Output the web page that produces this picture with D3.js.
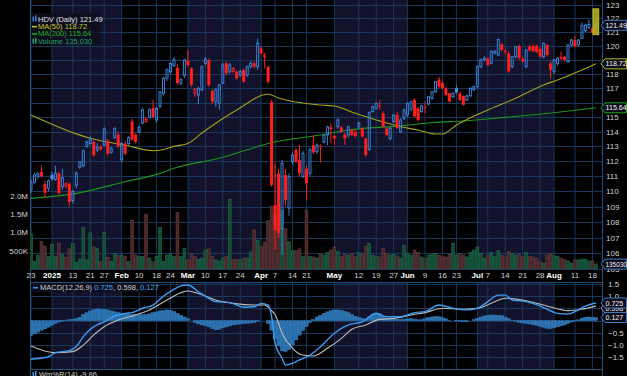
<!DOCTYPE html>
<html>
<head>
<meta charset="utf-8">
<script src="https://cdn.jsdelivr.net/npm/d3@7"></script>
<style>
  body { margin: 0; background: #000; }
  svg { display: block; }
  text { font-family: "Liberation Sans", Arial, sans-serif; }
</style>
</head>
<body>
<div id="wrapper"></div>
<script>

// ---- data ----

const firstDay = "2024-12-23"
const endDay = "2025-08-20"
const holidays = ["2024-12-25", "2025-01-01", "2025-01-09", "2025-01-20", "2025-02-17",
  "2025-04-18", "2025-05-26", "2025-06-19", "2025-07-04"]

const opens = [
  110.1,110.6,111.0,111.3,110.5,110.2,111.1,110.8,111.2,110.3,
  110.35,110.5,109.4,110.4,111.6,111.7,113.0,113.2,113.3,112.75,
  112.95,113.1,113.4,112.6,113.6,113.8,112.1,113.2,113.2,114.7,
  113.8,114.0,114.6,114.7,115.0,115.65,114.8,115.75,116.65,117.7,
  118.15,118.6,118.45,117.35,117.9,118.95,118.4,116.65,116.53,116.88,
  118.76,119.0,116.83,116.07,115.95,117.35,118.76,118.17,118.17,118.17,
  117.93,118.29,117.93,118.52,118.76,118.52,119.83,119.23,118.52,116.07,
  109.1,111.19,107.6,111.08,108.9,111.97,112.76,112.08,110.97,111.52,
  111.19,113.09,112.64,113.05,113.3,113.77,114.3,113.7,114.34,114.3,
  113.81,113.77,114.11,114.0,114.34,114.23,113.54,112.8,115.38,115.61,
  115.8,115.26,114.23,113.54,114.68,115.15,113.99,114.92,115.15,115.54,
  116.18,115.61,115.38,115.72,115.91,116.3,116.76,117.63,117.39,117.0,
  116.65,116.41,117.0,116.65,116.46,116.18,116.47,116.9,117.11,118.52,
  119.0,119.1,118.76,119.47,119.35,120.12,119.65,119.47,118.52,119.23,
  120.0,119.1,118.52,119.95,120.0,120.0,119.8,119.23,120.07,118.76,
  118.17,118.76,119.2,119.23,118.88,120.07,120.42,120.07,120.55,121.1,
  121.35,121.3,121.0
]
const highs = [
  110.8,111.2,111.3,111.7,110.7,110.8,111.3,111.7,111.3,111.5,
  110.6,110.6,110.1,111.3,112.0,112.8,113.4,113.7,113.4,113.2,
  113.1,114.3,113.5,113.0,114.3,114.0,113.3,113.4,113.7,114.9,
  113.9,114.4,115.6,115.0,115.6,116.2,115.7,116.8,117.8,118.4,
  118.8,119.2,118.7,117.7,119.1,119.7,118.5,117.0,117.1,118.6,
  119.2,119.1,116.9,117.0,117.3,118.8,118.9,118.8,118.5,118.3,
  118.3,118.4,118.6,118.9,118.9,120.5,120.0,119.5,118.6,116.2,
  111.86,111.5,112.1,111.5,111.2,112.6,112.9,113.1,112.7,111.7,
  112.9,113.77,113.2,113.15,113.85,114.4,114.57,113.8,114.92,114.4,
  113.9,114.4,114.2,114.1,114.7,114.3,113.6,115.4,115.8,116.0,
  116.18,115.4,114.3,114.3,115.2,115.38,114.9,115.6,116.0,116.1,
  116.3,115.7,115.85,116.07,116.45,116.8,117.5,117.81,117.5,117.1,
  116.7,116.7,117.23,116.75,116.5,116.55,117.05,117.2,118.6,119.1,
  119.25,119.2,119.7,119.7,120.5,120.2,119.8,119.6,119.3,120.0,
  120.1,119.2,119.8,120.1,120.1,120.1,119.9,120.25,120.15,118.9,
  119.05,119.2,119.59,119.3,120.1,120.5,120.7,120.5,121.7,121.6,
  121.9,121.35,121.7
]
const lows = [
  109.9,110.5,110.8,110.9,109.6,110.0,110.7,110.7,109.8,110.1,
  110.2,109.0,109.2,110.2,111.5,111.6,112.9,113.1,112.3,112.6,
  112.7,113.0,112.4,112.5,113.5,112.9,111.9,112.4,113.1,113.4,
  113.2,113.9,114.5,114.6,114.9,114.9,114.6,115.6,116.5,117.5,
  118.0,118.5,117.2,117.2,117.7,118.5,117.1,116.4,115.9,116.8,
  118.6,117.1,115.9,115.7,115.5,117.3,117.9,118.0,118.1,117.6,
  117.8,117.4,117.8,118.4,118.4,118.3,119.4,118.4,117.3,110.3,
  106.2,107.0,105.9,109.0,108.4,111.8,111.9,110.97,110.9,109.44,
  111.0,112.5,112.5,111.9,113.2,113.09,113.2,113.1,114.2,113.9,
  113.09,113.6,113.7,113.6,114.2,113.6,112.3,112.7,115.3,115.5,
  115.49,114.3,113.7,113.4,114.6,114.2,113.9,114.8,115.0,115.4,
  115.0,114.7,115.3,115.26,115.8,116.2,116.7,117.0,116.9,116.45,
  116.0,116.3,116.6,116.1,115.8,116.1,116.4,116.8,117.0,118.4,
  118.9,118.55,118.7,119.4,119.3,119.6,119.4,118.1,118.4,119.1,
  119.0,118.8,118.4,119.6,119.55,119.5,119.15,119.1,119.25,117.7,
  118.0,118.6,119.0,118.9,118.8,120.0,119.9,120.0,120.5,121.0,
  121.2,120.85,120.9
]
const closes = [
  110.6,111.1,111.15,111.0,109.9,110.7,110.8,111.2,109.9,110.9,
  110.5,109.3,110.0,111.2,111.95,112.7,113.3,113.5,112.4,112.95,
  112.8,114.2,112.5,112.85,114.2,113.0,113.2,112.5,113.6,113.45,
  113.3,114.3,115.5,114.85,115.5,115.0,115.6,116.75,117.7,118.3,
  118.75,119.0,117.35,117.6,119.0,118.64,117.23,116.93,116.99,118.52,
  119.05,117.23,116.07,116.88,117.23,118.64,118.05,118.64,118.4,117.7,
  118.17,117.46,118.52,118.76,118.52,120.19,119.47,119.35,117.46,110.42,
  107.48,107.3,111.86,109.44,110.97,112.42,111.97,111.19,112.53,110.53,
  112.76,112.58,113.09,112.98,113.77,114.34,114.16,113.55,114.8,114.0,
  113.54,114.34,113.77,113.7,114.57,113.66,112.42,115.3,115.72,115.95,
  115.75,114.34,113.77,114.23,115.15,114.23,114.8,115.49,115.95,116.07,
  115.03,114.8,115.77,115.65,116.41,116.76,117.46,117.11,117.0,116.53,
  116.07,116.65,116.69,116.18,115.84,116.47,117.0,117.1,118.52,119.0,
  119.12,118.64,119.59,119.62,120.47,119.71,119.55,118.17,119.23,119.95,
  119.12,118.88,119.71,119.68,119.62,119.58,119.23,120.19,119.35,118.29,
  119.0,119.12,119.08,119.0,120.07,120.42,119.95,120.42,121.45,121.5,
  121.55,120.95,121.49
]
// volume in thousands of shares
const volumes = [
  960,200,380,750,630,340,680,340,700,400,
  320,550,700,180,270,1140,250,990,600,570,
  200,1000,320,200,420,380,380,340,200,1340,
  380,340,340,1500,300,200,340,1140,200,380,
  400,340,1540,340,570,250,400,340,270,300,
  520,550,340,250,220,300,350,1900,250,260,
  250,300,300,470,1070,790,620,740,1320,1720,
  1500,1750,1600,1100,740,500,500,550,350,1610,
  350,330,300,420,380,450,520,600,480,350,
  400,380,420,350,450,400,620,700,380,350,
  330,560,420,380,400,360,300,650,420,380,
  520,450,330,300,380,400,420,380,350,330,
  400,700,380,420,380,330,450,520,600,420,
  300,380,450,350,500,380,330,480,420,380,
  400,330,450,350,330,300,200,150,380,420,
  360,350,300,260,220,160,250,250,270,270,
  220,220,135.03
]

// moving averages, read at [trading-day index, value]
const ma50Points = [
  [0,115.14],[13,113.85],[17,113.55],[27,113.09],[35,112.71],[38,112.79],[41,113.0],
  [45,113.2],[49,113.91],[59,115.49],[68,116.58],[71,116.32],[83,115.83],[87,115.76],
  [93,115.26],[99,114.80],[106,114.34],[111,114.11],[116,113.84],[118,113.84],
  [122,114.45],[125,114.84],[127,115.07],[131,115.49],[139,116.30],[147,117.23],
  [151,117.58],[158,118.28],[162,118.72]
]
const ma200Points = [
  [0,109.54],[13,109.87],[27,110.64],[37,111.19],[41,111.53],[54,112.20],[69,113.25],
  [83,113.77],[91,114.11],[105,114.38],[115,114.61],[125,114.75],[136,114.98],
  [150,115.30],[162,115.64]
]

// MACD(12,26,9)
const macdPoints = [
  [0,-1.59],[5,-1.49],[7,-1.32],[11,-1.24],[13,-1.07],[15,-0.66],[18,-0.25],[21,-0.05],
  [24,0.19],[27,0.30],[29,0.33],[32,0.51],[35,0.64],[38,1.01],[41,1.29],[43,1.43],
  [45,1.47],[48,1.19],[50,1.01],[53,0.78],[57,0.74],[61,0.55],[64,0.57],[66,0.71],
  [68,0.64],[69,0.16],[70,-0.94],[72,-1.55],[73,-1.83],[75,-1.76],[77,-1.62],[80,-1.42],
  [83,-1.08],[87,-0.52],[91,-0.18],[95,-0.05],[99,0.30],[102,0.16],[106,0.16],[110,0.33],
  [113,0.37],[117,0.64],[121,0.51],[125,0.44],[128,0.51],[131,0.78],[134,1.05],[136,1.05],
  [138,0.85],[142,0.78],[146,0.60],[151,0.30],[154,0.27],[156,0.37],[159,0.60],[162,0.725]
]
const signalPoints = [
  [0,-1.05],[3,-1.21],[7,-1.32],[12,-1.28],[15,-1.01],[18,-0.59],[21,-0.25],[25,0.02],
  [29,0.19],[34,0.44],[39,0.85],[43,1.15],[45,1.22],[48,1.12],[53,0.85],[58,0.71],
  [64,0.64],[67,0.64],[69,0.40],[70,0.25],[72,-0.52],[75,-1.14],[78,-1.42],[81,-1.46],
  [85,-1.14],[89,-0.73],[92,-0.36],[96,-0.18],[100,0.05],[104,0.09],[109,0.23],[113,0.33],
  [118,0.51],[123,0.47],[128,0.51],[133,0.78],[136,0.92],[142,0.82],[148,0.60],
  [154,0.41],[158,0.47],[162,0.598]
]
const histogram = [
  -0.62,-0.55,-0.48,-0.40,-0.34,-0.27,-0.20,-0.12,-0.06,-0.02,
  0.02,0.04,0.05,0.08,0.14,0.25,0.33,0.40,0.45,0.48,
  0.47,0.46,0.44,0.40,0.36,0.33,0.30,0.30,0.28,0.26,
  0.25,0.26,0.25,0.24,0.28,0.33,0.36,0.40,0.42,0.44,
  0.42,0.38,0.30,0.22,0.15,0.08,0.00,-0.08,-0.14,-0.18,
  -0.20,-0.26,-0.33,-0.38,-0.36,-0.30,-0.26,-0.22,-0.18,-0.16,
  -0.14,-0.12,-0.11,-0.10,-0.08,-0.02,0.00,0.00,-0.12,-0.40,
  -0.75,-1.05,-1.25,-1.28,-1.20,-1.00,-0.80,-0.60,-0.42,-0.25,
  -0.08,0.05,0.15,0.22,0.30,0.36,0.41,0.44,0.44,0.42,
  0.38,0.33,0.26,0.18,0.14,0.10,0.06,0.15,0.25,0.30,
  0.28,0.18,0.10,0.05,0.06,0.05,0.04,0.05,0.07,0.08,
  0.06,0.03,0.04,0.08,0.12,0.15,0.17,0.16,0.12,0.07,
  0.02,0.00,-0.01,-0.03,-0.04,-0.03,0.00,0.04,0.10,0.15,
  0.19,0.22,0.23,0.23,0.22,0.20,0.15,0.08,0.02,-0.03,
  -0.07,-0.10,-0.12,-0.14,-0.17,-0.20,-0.24,-0.28,-0.32,-0.33,
  -0.30,-0.26,-0.22,-0.18,-0.12,-0.06,-0.02,0.03,0.10,0.14,
  0.15,0.14,0.127
]

const tickDates = ["2024-12-23","2025-01-02","2025-01-13","2025-01-21","2025-01-27",
  "2025-02-03","2025-02-10","2025-02-18","2025-02-24","2025-03-03","2025-03-10",
  "2025-03-17","2025-03-24","2025-04-01","2025-04-07","2025-04-14","2025-04-21",
  "2025-05-01","2025-05-12","2025-05-19","2025-05-27","2025-06-02","2025-06-09",
  "2025-06-16","2025-06-23","2025-07-01","2025-07-07","2025-07-14","2025-07-21",
  "2025-07-28","2025-08-01","2025-08-11","2025-08-18"]
const tickLabels = ["23","2025","13","21","27","Feb","10","18","24","Mar","10","17","24",
  "Apr","7","14","21","May","12","19","27","Jun","9","16","23","Jul","7","14","21","28",
  "Aug","11","18"]
const boldLabels = ["2025","Feb","Mar","Apr","May","Jun","Jul","Aug"]
const shadedMonths = [["2025-01-02","2025-02-03"],["2025-03-03","2025-04-01"],
  ["2025-05-01","2025-06-02"],["2025-07-01","2025-08-01"]]

const priceTicks = d3.range(105, 124)
const volumeTicks = [500000, 1000000, 1500000, 2000000]
const macdTicks = [-1.5, -1.0, -0.5, 0, 0.5, 1.0, 1.5]
const lastBarBox = [120.8, 122.7]

function drawChart() {

  // 1. Access data
  const dateParser = d3.timeParse("%Y-%m-%d")
  const dateKey = d3.timeFormat("%Y-%m-%d")
  const days = d3.timeDay.range(dateParser(firstDay), dateParser(endDay))
    .map(dateKey)
    .filter(k => { const wd = dateParser(k).getDay(); return wd !== 0 && wd !== 6 && !holidays.includes(k) })

  const dataset = days.map((key, i) => ({
    key, i,
    open: opens[i], high: highs[i], low: lows[i], close: closes[i],
    volume: volumes[i] * 1000,
    hist: histogram[i],
  }))
  dataset.forEach((d, i) => {
    d.rising = i === 0 || d.close >= dataset[i - 1].close
    d.hollow = d.close >= d.open
  })

  // 2. Dimensions
  const dimensions = {
    width: 627, height: 376,
    left: 30, right: 602,
    mainTop: 0, mainBottom: 269,
    macdTop: 282, macdBottom: 369,
  }
  const step = 3.487

  // 3. Canvas
  const wrapper = d3.select("#wrapper").append("svg")
      .attr("width", dimensions.width)
      .attr("height", dimensions.height)
      .style("background", "#000")

  const defs = wrapper.append("defs")
  defs.append("clipPath").attr("id", "clip-main").append("rect")
      .attr("x", dimensions.left).attr("y", dimensions.mainTop)
      .attr("width", dimensions.right - dimensions.left)
      .attr("height", dimensions.mainBottom - dimensions.mainTop)
  defs.append("clipPath").attr("id", "clip-macd").append("rect")
      .attr("x", dimensions.left).attr("y", dimensions.macdTop)
      .attr("width", dimensions.right - dimensions.left)
      .attr("height", dimensions.macdBottom - dimensions.macdTop)

  // 4. Scales
  const x0 = 31 - step / 2
  const xScale = d3.scaleBand()
    .domain(days)
    .range([x0, x0 + step * days.length])
    .paddingInner(0.25)
    .paddingOuter(0.125)
  const cx = key => xScale(key) + xScale.bandwidth() / 2
  const cxi = i => cx(days[i])

  const yPrice = d3.scaleLog().domain([106, 122]).range([253.3, 18.3])
  const yVolume = d3.scaleLinear().domain([0, 2000000]).range([269, 195.8])
  const yMacd = d3.scaleLinear().domain([-1.5, 1.5]).range([357, 284.2])

  const last = dataset[dataset.length - 1]
  const priceTags = [last.close, ma50Points[ma50Points.length - 1][1], ma200Points[ma200Points.length - 1][1]]

  // 5. Panels: shading + grid
  const gridColor = "#17385c"
  const panels = [[dimensions.mainTop, dimensions.mainBottom], [dimensions.macdTop, dimensions.macdBottom]]

  panels.forEach(([top, bottom]) => {
    wrapper.append("g").selectAll("rect")
        .data(shadedMonths)
      .enter().append("rect")
        .attr("x", d => cx(d[0]))
        .attr("width", d => cx(d[1]) - cx(d[0]))
        .attr("y", top)
        .attr("height", bottom - top)
        .attr("fill", "#12122a")

    wrapper.append("g").selectAll("line")
        .data(tickDates)
      .enter().append("line")
        .attr("x1", d => cx(d)).attr("x2", d => cx(d))
        .attr("y1", top).attr("y2", bottom)
        .attr("stroke", gridColor).attr("stroke-width", 1)
  })

  wrapper.append("g").selectAll("line")
      .data(priceTicks)
    .enter().append("line")
      .attr("x1", dimensions.left).attr("x2", dimensions.right)
      .attr("y1", d => Math.round(yPrice(d)) + 0.5).attr("y2", d => Math.round(yPrice(d)) + 0.5)
      .attr("stroke", gridColor)

  wrapper.append("g").selectAll("line")
      .data(macdTicks)
    .enter().append("line")
      .attr("x1", dimensions.left).attr("x2", dimensions.right)
      .attr("y1", d => Math.round(yMacd(d)) + 0.5).attr("y2", d => Math.round(yMacd(d)) + 0.5)
      .attr("stroke", gridColor)

  // panel frames
  const frame = wrapper.append("g").attr("stroke", "#24507c").attr("fill", "none")
  frame.append("line").attr("x1", dimensions.right + 0.5).attr("x2", dimensions.right + 0.5)
      .attr("y1", 0).attr("y2", dimensions.height)
  frame.append("line").attr("x1", dimensions.left + 0.5).attr("x2", dimensions.left + 0.5)
      .attr("y1", 0).attr("y2", dimensions.height)
  ;[dimensions.macdTop, dimensions.macdBottom].forEach(y => {
    frame.append("line").attr("x1", dimensions.left).attr("x2", dimensions.right)
        .attr("y1", y + 0.5).attr("y2", y + 0.5)
  })

  // 6. Volume
  const main = wrapper.append("g").attr("clip-path", "url(#clip-main)")

  main.append("g").selectAll("rect")
      .data(dataset)
    .enter().append("rect")
      .attr("x", d => cx(d.key) - 1.4)
      .attr("width", 2.8)
      .attr("y", d => yVolume(d.volume))
      .attr("height", d => yVolume(0) - yVolume(d.volume))
      .attr("fill", d => d.rising ? "#144a34" : "#46282a")
      .attr("stroke", d => d.rising ? "#1f6e4c" : "#683c3c")
      .attr("stroke-width", 0.6)

  // 7. Moving averages
  const maLine = d3.line()
    .x(d => cxi(d[0]))
    .y(d => yPrice(d[1]))
    .curve(d3.curveMonotoneX)

  main.append("path").attr("d", maLine(ma200Points))
      .attr("fill", "none").attr("stroke", "#1e9420").attr("stroke-width", 1.1)
  main.append("path").attr("d", maLine(ma50Points))
      .attr("fill", "none").attr("stroke", "#a3a31c").attr("stroke-width", 1.1)

  // 8. Candles
  const blue = "#3b80d6", red = "#ff1f1f"
  const candles = main.append("g").selectAll("g")
      .data(dataset)
    .enter().append("g")
  const col = d => d.rising ? blue : red

  candles.append("line")
      .attr("x1", d => cx(d.key)).attr("x2", d => cx(d.key))
      .attr("y1", d => yPrice(d.high))
      .attr("y2", d => yPrice(Math.max(d.open, d.close)))
      .attr("stroke", col)
  candles.append("line")
      .attr("x1", d => cx(d.key)).attr("x2", d => cx(d.key))
      .attr("y1", d => yPrice(Math.min(d.open, d.close)))
      .attr("y2", d => yPrice(d.low))
      .attr("stroke", col)
  candles.append("rect")
      .attr("x", d => d.hollow ? cx(d.key) - 1 : cx(d.key) - 1.5)
      .attr("width", d => d.hollow ? 2 : 3)
      .attr("y", d => yPrice(Math.max(d.open, d.close)))
      .attr("height", d => Math.max(1, yPrice(Math.min(d.open, d.close)) - yPrice(Math.max(d.open, d.close))))
      .attr("fill", d => d.hollow ? "none" : (d.rising ? "#4b95e6" : red))
      .attr("stroke", d => d.hollow ? col(d) : "none")
      .attr("stroke-width", 1)

  // last bar highlight
  main.append("rect")
      .attr("x", cx(last.key) - 3)
      .attr("width", 6)
      .attr("y", yPrice(lastBarBox[1]))
      .attr("height", yPrice(lastBarBox[0]) - yPrice(lastBarBox[1]))
      .attr("fill", "#b8b61e").attr("fill-opacity", 0.85)
      .attr("stroke", "#d8d640").attr("stroke-width", 0.6)

  // 9. MACD
  const macdG = wrapper.append("g").attr("clip-path", "url(#clip-macd)")
  macdG.append("g").selectAll("rect")
      .data(dataset)
    .enter().append("rect")
      .attr("x", d => cx(d.key) - step / 2)
      .attr("width", step)
      .attr("y", d => Math.min(yMacd(0), yMacd(d.hist)))
      .attr("height", d => Math.abs(yMacd(d.hist) - yMacd(0)))
      .attr("fill", "#2a6fab")
      .attr("stroke", "#3a88c8")
      .attr("stroke-width", 0.4)

  const macdLine = d3.line()
    .x(d => cxi(d[0]))
    .y(d => yMacd(d[1]))
    .curve(d3.curveMonotoneX)
  macdG.append("path").attr("d", macdLine(signalPoints))
      .attr("fill", "none").attr("stroke", "#bcbcbc").attr("stroke-width", 1.1)
  macdG.append("path").attr("d", macdLine(macdPoints))
      .attr("fill", "none").attr("stroke", "#3d9cf0").attr("stroke-width", 1.4)

  // 10. Axes
  const labelColor = "#d2d2d2"
  const priceAxis = d3.axisRight(yPrice)
    .tickValues(priceTicks.filter(t => priceTags.every(p => Math.abs(yPrice(t) - yPrice(p)) > 5.5)))
    .tickFormat(d3.format("d"))
    .tickSize(0)
    .tickPadding(4)
  wrapper.append("g")
      .attr("transform", `translate(${dimensions.right}, 0)`)
      .call(priceAxis)
      .call(g => g.select(".domain").remove())
      .call(g => g.selectAll("text").attr("fill", labelColor).style("font-size", "8px"))

  const volumeAxis = d3.axisLeft(yVolume)
    .tickValues(volumeTicks)
    .tickFormat(d => d >= 1000000 ? d3.format(".1f")(d / 1000000) + "M" : d / 1000 + "K")
    .tickSize(0)
    .tickPadding(2)
  wrapper.append("g")
      .attr("transform", `translate(${dimensions.left}, 0)`)
      .call(volumeAxis)
      .call(g => g.select(".domain").remove())
      .call(g => g.selectAll("text").attr("fill", labelColor).style("font-size", "8px"))

  const macdAxis = d3.axisRight(yMacd)
    .tickValues(macdTicks.filter(d => d !== 0 && d !== 0.5))
    .tickFormat(d3.format(".1f"))
    .tickSize(0)
    .tickPadding(6)
  wrapper.append("g")
      .attr("transform", `translate(${dimensions.right}, 0)`)
      .call(macdAxis)
      .call(g => g.select(".domain").remove())
      .call(g => g.selectAll("text").attr("fill", labelColor).style("font-size", "8px"))

  const isBold = d => boldLabels.includes(tickLabels[tickDates.indexOf(d)])
  const xAxis = d3.axisBottom(xScale)
    .tickValues(tickDates)
    .tickFormat((d, i) => tickLabels[i])
    .tickSize(0)
    .tickPadding(3)
  wrapper.append("g")
      .attr("transform", `translate(0, ${dimensions.mainBottom})`)
      .call(xAxis)
      .call(g => g.select(".domain").remove())
      .call(g => g.selectAll("text")
        .attr("fill", d => isBold(d) ? "#ffffff" : labelColor)
        .style("font-weight", d => isBold(d) ? "bold" : "normal")
        .style("font-size", "8px"))

  // 11. Value tags on the right
  function tag(y, text, stroke) {
    const g = wrapper.append("g")
    const xa = dimensions.right - 1, xb = dimensions.width - 0.5
    g.append("path")
        .attr("d", `M${xa},${y} L${xa + 4},${y - 5} H${xb} V${y + 5} H${xa + 4} Z`)
        .attr("fill", "#0c0c18").attr("stroke", stroke).attr("stroke-width", 1)
    g.append("text")
        .attr("x", xa + 4.5).attr("y", y).attr("dy", "0.34em")
        .attr("fill", "#f2f2f2")
        .attr("textLength", text.length * 3.55)
        .attr("lengthAdjust", "spacingAndGlyphs")
        .style("font-size", "7.5px")
        .text(text)
  }
  tag(yPrice(last.close), d3.format(".2f")(last.close), "#3f7cc4")
  tag(yPrice(priceTags[1]), d3.format(".2f")(priceTags[1]), "#b4b424")
  tag(yPrice(priceTags[2]), d3.format(".2f")(priceTags[2]), "#22a022")
  tag(yVolume(last.volume), d3.format("d")(Math.round(last.volume)), "#3f7cc4")
  tag(yMacd(signalPoints[signalPoints.length - 1][1]) + 2, "0.598", "#9a9a9a")
  tag(yMacd(macdPoints[macdPoints.length - 1][1]), "0.725", "#3f7cc4")
  tag(yMacd(histogram[histogram.length - 1]), "0.127", "#3f7cc4")

  // 12. Legends
  const legend = wrapper.append("g")
  legend.append("rect").attr("x", 31).attr("y", 13).attr("width", 69).attr("height", 31)
      .attr("fill", "#0e0e1c").attr("fill-opacity", 0.85)
  const legendRows = [
    { text: "HDV (Daily) 121.49", color: "#e6e6e6", icon: "#3b80d6" },
    { text: "MA(50) 118.72", color: "#c9c92a", icon: "#c9c92a" },
    { text: "MA(200) 115.64", color: "#23b023", icon: "#23b023" },
    { text: "Volume 135,030", color: "#1fa56a", icon: "#1fa56a" },
  ]
  legendRows.forEach((row, i) => {
    const y = 19 + i * 7.4
    if (i === 0 || i === 3) {
      legend.append("rect").attr("x", 32.5).attr("y", y - 2.5).attr("width", 1.5).attr("height", 5).attr("fill", row.icon)
      legend.append("rect").attr("x", 35).attr("y", y - 3.5).attr("width", 1.5).attr("height", 6).attr("fill", row.icon)
    } else {
      legend.append("rect").attr("x", 32).attr("y", y - 0.5).attr("width", 5).attr("height", 1.5).attr("fill", row.icon)
    }
    legend.append("text").attr("x", 38).attr("y", y).attr("dy", "0.34em")
        .attr("fill", row.color).style("font-size", "7.5px").text(row.text)
  })

  const macdLegend = wrapper.append("g")
  macdLegend.append("rect").attr("x", 31).attr("y", 283).attr("width", 116).attr("height", 9)
      .attr("fill", "#0e0e1c").attr("fill-opacity", 0.85)
  macdLegend.append("rect").attr("x", 33).attr("y", 287).attr("width", 5).attr("height", 1.5).attr("fill", "#3d9cf0")
  const mt = macdLegend.append("text").attr("x", 40).attr("y", 287.5).attr("dy", "0.34em").style("font-size", "7.5px")
  mt.append("tspan").attr("fill", "#cfcfcf").text("MACD(12,26,9) ")
  mt.append("tspan").attr("fill", "#4aa3f0").text("0.725")
  mt.append("tspan").attr("fill", "#cfcfcf").text(", 0.598, ")
  mt.append("tspan").attr("fill", "#4aa3f0").text("0.127")

  const wmLegend = wrapper.append("g")
  wmLegend.append("rect").attr("x", 32.5).attr("y", 372).attr("width", 1.5).attr("height", 4).attr("fill", "#3d9cf0")
  wmLegend.append("rect").attr("x", 35).attr("y", 371).attr("width", 1.5).attr("height", 5).attr("fill", "#3d9cf0")
  wmLegend.append("text").attr("x", 39).attr("y", 374.5).attr("dy", "0.34em")
      .attr("fill", "#cfcfcf").style("font-size", "7.5px").text("Wm%R(14) -9.86")
}
drawChart()
</script>
</body>
</html>
